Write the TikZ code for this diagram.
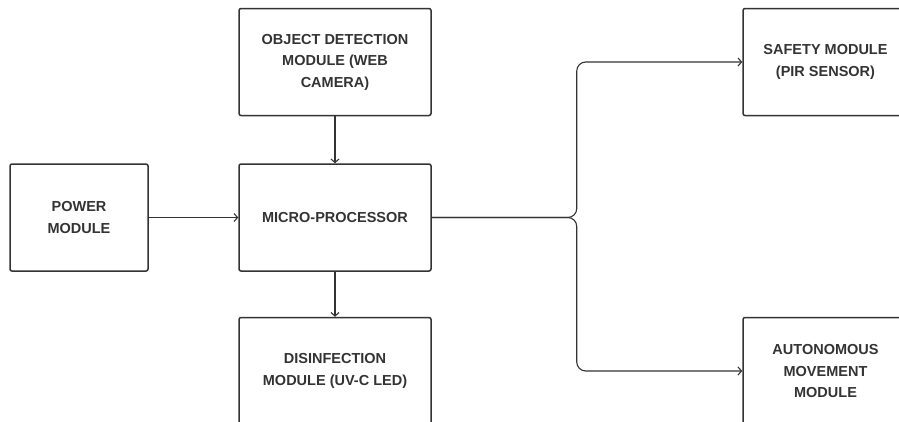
\documentclass[tikz,border=0pt]{standalone}
\usepackage{fontspec}
\setmainfont{Liberation Sans}
\usepackage{xcolor}
\usepackage{tikz}
\usetikzlibrary{calc, arrows.meta, positioning}
\definecolor{darkline}{HTML}{333333}
\tikzset{
    blocknode/.style = {draw=darkline, rectangle, rounded corners=0.2em, line width=1.5pt,
      inner sep=0em, node distance=0em, text=darkline,
      font=\fontsize{14.5}{21.5}\selectfont\bfseries},
    midnode/.style = {blocknode, minimum width=192pt, minimum height=107pt},
    sidenode/.style = {blocknode, minimum width=165pt, minimum height=107pt},
    connect/.style = {darkline, line width=1.1pt, -{Straight Barb[length=3.5pt,width=8pt]}},
    every text node part/.style={align=center}
}

\begin{document}
\begin{tikzpicture}
    \path[use as bounding box, clip] (0,0) rectangle (899pt,-421pt);

    \node [name=micro, midnode] at (335pt,-217.5pt) {MICRO-PROCESSOR};

    \node [name=objdet, midnode, above of = micro, yshift=155.5pt]
        {OBJECT DETECTION\\MODULE (WEB\\CAMERA)};
    \node [name=disinf, midnode, below of = micro, yshift=-153.5pt]
        {DISINFECTION\\MODULE (UV-C LED)};
    \node [name=power, blocknode, minimum width=138pt, minimum height=107pt,
        left of = micro, xshift=-256pt] {POWER\\MODULE};

    \node [name=safety, sidenode, right of = objdet, xshift=490.5pt]
        {SAFETY MODULE\\(PIR SENSOR)};
    \node [name=autonom, sidenode, right of = disinf, xshift=490.5pt]
        {AUTONOMOUS\\MOVEMENT\\MODULE};

    \draw [connect] (power) -- (micro);
    \draw [connect] (objdet) -- (micro);
    \draw [connect] (micro) -- (disinf);

    % split towards the two right-hand modules
    \coordinate (split) at ($(micro.east)+(145pt,0)$);
    \draw [connect, rounded corners=9pt] (micro.east) -- (split) |- (safety.west);
    \draw [connect, rounded corners=9pt] (micro.east) -- (split) |- (autonom.west);
\end{tikzpicture}
\end{document}
